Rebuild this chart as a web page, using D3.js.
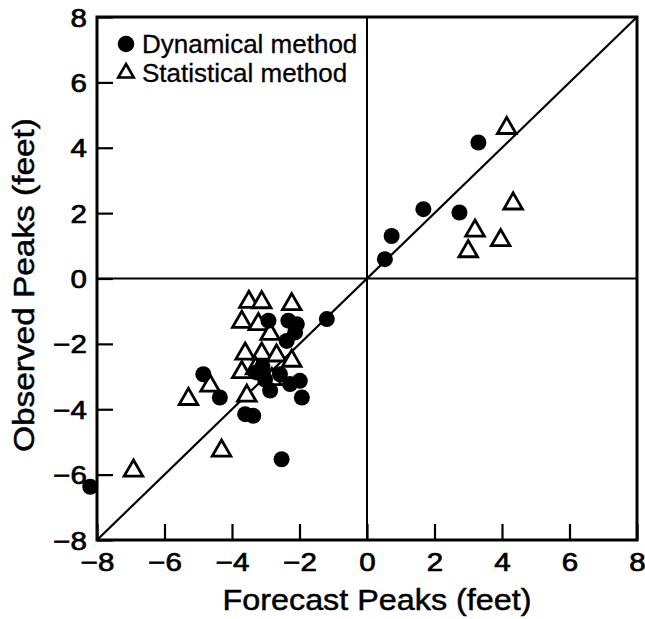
<!DOCTYPE html>
<html>
<head>
<meta charset="utf-8">
<script src="https://cdn.jsdelivr.net/npm/d3@7"></script>
<style>
  body { margin: 0; background: #fff; }
  text { font-family: "Liberation Sans", Arial, sans-serif; fill: #000; }
  .tick-label { font-size: 25px; stroke: #000; stroke-width: 0.7px; }
  .axis-title { font-size: 30px; stroke: #000; stroke-width: 0.5px; }
  .legend-text { font-size: 26px; stroke: #000; stroke-width: 0.3px; }
</style>
</head>
<body>
<div id="chart"></div>
<script>
  // dynamical method (filled circles): forecast x, observed y
  var dynX = [3.3, 1.67, 2.74, 0.73, 0.53,
              -4.85, -4.36, -3.61, -3.37, -2.53, -2.92, -2.33, -2.08, -2.13, -2.38,
              -1.19, -3.27, -3.1, -2.87, -1.99, -1.93, -2.28, -2.58, -3.02, -8.2]
  var dynY = [4.16, 2.12, 2.02, 1.3, 0.59,
              -2.93, -3.64, -4.15, -4.2, -5.53, -1.29, -1.29, -1.4, -1.65, -1.91,
              -1.24, -2.87, -2.7, -3.43, -3.13, -3.64, -3.23, -2.93, -3.09, -6.37]

  // statistical method (open triangles)
  var statX = [4.14, 4.33, 3.2, 3.96, 3.0,
               -3.5, -3.12, -2.23, -3.71, -3.22, -2.87, -3.61, -3.12, -2.68, -2.23,
               -3.71, -2.82, -3.56, -4.65, -5.29, -4.31, -6.92, -3.3]
  var statY = [4.6, 2.29, 1.46, 1.17, 0.83,
               -0.72, -0.73, -0.79, -1.33, -1.4, -1.7, -2.3, -2.3, -2.36, -2.52,
               -2.87, -3.08, -3.59, -3.28, -3.69, -5.27, -5.88, -2.75]

  var tickValues = [-8, -6, -4, -2, 0, 2, 4, 6, 8]
  var legendLabels = ["Dynamical method", "Statistical method"]

  var widthSvg = 645
  var heightSvg = 619
  var margin = { top: 17, left: 97, right: 8, bottom: 79 }
  var widthScale = widthSvg - margin.left - margin.right
  var heightScale = heightSvg - margin.top - margin.bottom

  var svg = d3.select("#chart").append("svg")
    .attr("width", widthSvg)
    .attr("height", heightSvg)

  var mainG = svg.append("g")
    .attr("transform", "translate(" + margin.left + "," + margin.top + ")")

  var xPositionScale = d3.scaleLinear().domain([-8, 8]).range([0, widthScale])
  var yPositionScale = d3.scaleLinear().domain([-8, 8]).range([heightScale, 0])

  // zero lines and diagonal
  mainG.append("line")
    .attr("x1", xPositionScale(0)).attr("x2", xPositionScale(0))
    .attr("y1", 0).attr("y2", heightScale)
    .attr("stroke", "#000").attr("stroke-width", 2)
  mainG.append("line")
    .attr("x1", 0).attr("x2", widthScale)
    .attr("y1", yPositionScale(0)).attr("y2", yPositionScale(0))
    .attr("stroke", "#000").attr("stroke-width", 2)
  mainG.append("line")
    .attr("x1", xPositionScale(-8)).attr("y1", yPositionScale(-8))
    .attr("x2", xPositionScale(8)).attr("y2", yPositionScale(8))
    .attr("stroke", "#000").attr("stroke-width", 2.2)

  // axes with inward ticks
  var minusFormat = function(d) { return d < 0 ? "\u2212" + Math.abs(d) : d }

  var xAxis = d3.axisBottom(xPositionScale)
    .tickValues(tickValues)
    .tickSize(-16)
    .tickPadding(8)
    .tickFormat(minusFormat)
  var xG = mainG.append("g")
    .attr("transform", "translate(0," + heightScale + ")")
    .call(xAxis)

  var yAxis = d3.axisLeft(yPositionScale)
    .tickValues(tickValues)
    .tickSize(-16)
    .tickPadding(10)
    .tickFormat(minusFormat)
  var yG = mainG.append("g").call(yAxis)

  ;[xG, yG].forEach(function(g) {
    g.select(".domain").remove()
    g.selectAll(".tick line").attr("stroke", "#000").attr("stroke-width", 2.2)
    g.selectAll(".tick text")
      .attr("class", "tick-label")
      .attr("font-family", null).attr("font-size", null)
      .each(function() {
        // the original face is wider than Liberation Sans
        var w = this.getComputedTextLength()
        d3.select(this).attr("textLength", w * 1.18).attr("lengthAdjust", "spacingAndGlyphs")
      })
  })
  xG.selectAll(".tick text").attr("dy", "0.9em")
  yG.selectAll(".tick text").attr("dy", "0.36em")

  // frame
  mainG.append("rect")
    .attr("x", 0).attr("y", 0)
    .attr("width", widthScale).attr("height", heightScale)
    .attr("fill", "none").attr("stroke", "#000").attr("stroke-width", 3)

  // points
  var tri = d3.symbol().type(d3.symbolTriangle).size(150)

  mainG.selectAll(".stat")
    .data(d3.range(statX.length))
    .enter().append("path")
    .attr("class", "stat")
    .attr("d", tri)
    .attr("transform", function(i) {
      return "translate(" + xPositionScale(statX[i]) + "," + yPositionScale(statY[i]) + ")"
    })
    .attr("fill", "#fff").attr("stroke", "#000").attr("stroke-width", 2.8)

  mainG.selectAll(".dyn")
    .data(d3.range(dynX.length))
    .enter().append("circle")
    .attr("class", "dyn")
    .attr("cx", function(i) { return xPositionScale(dynX[i]) })
    .attr("cy", function(i) { return yPositionScale(dynY[i]) })
    .attr("r", 8)
    .attr("fill", "#000")

  // legend
  var legend = mainG.append("g").attr("transform", "translate(29,27)")
  legend.append("circle").attr("cx", 0).attr("cy", 0).attr("r", 8.3).attr("fill", "#000")
  legend.append("path").attr("d", d3.symbol().type(d3.symbolTriangle).size(105))
    .attr("transform", "translate(0,29)")
    .attr("fill", "#fff").attr("stroke", "#000").attr("stroke-width", 2.6)
  legend.selectAll(".legend-text")
    .data(legendLabels)
    .enter().append("text")
    .attr("class", "legend-text")
    .attr("x", 16)
    .attr("y", function(d, i) { return i * 29 + 9 })
    .text(function(d) { return d })

  // axis titles
  svg.append("text")
    .attr("class", "axis-title")
    .attr("x", 377)
    .attr("y", 610)
    .attr("text-anchor", "middle")
    .attr("textLength", 309)
    .attr("lengthAdjust", "spacingAndGlyphs")
    .text("Forecast Peaks (feet)")

  svg.append("text")
    .attr("class", "axis-title")
    .attr("transform", "translate(34,285) rotate(-90)")
    .attr("text-anchor", "middle")
    .attr("textLength", 334)
    .attr("lengthAdjust", "spacingAndGlyphs")
    .text("Observed Peaks (feet)")
</script>
</body>
</html>
